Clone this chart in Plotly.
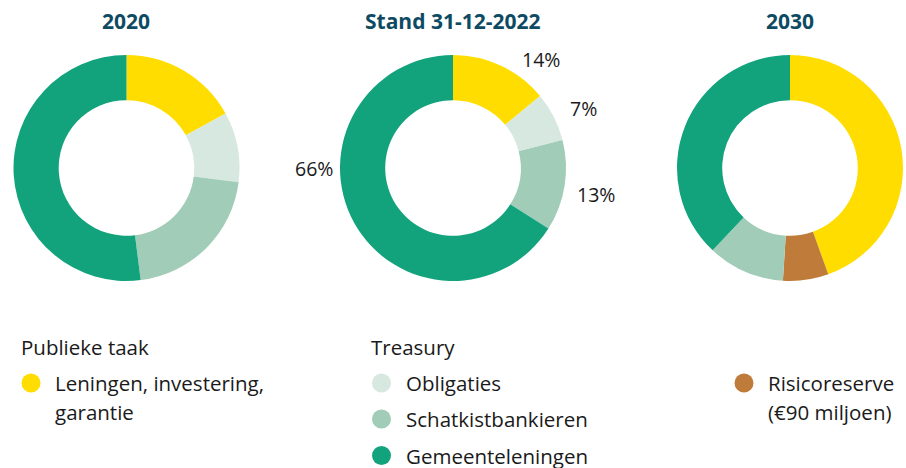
import plotly.graph_objects as go

W, H = 906, 468

# Categories (clockwise order from 12 o'clock)
categories = [
    "Leningen, investering, garantie",
    "Risicoreserve",
    "Obligaties",
    "Schatkistbankieren",
    "Gemeenteleningen",
]
colors = ["#FFDD00", "#BF7B3A", "#D6E8DF", "#A0CCB8", "#12A37C"]

# Share per category (%)
values_2020 = [17, 0, 10, 21, 52]
values_2022 = [14, 0, 7, 13, 66]
values_2030 = [44.5, 6.5, 0, 11, 38]

titles = ["2020", "Stand 31-12-2022", "2030"]

TITLE_COLOR = "#0E4B63"
TEXT_COLOR = "#1A1A1A"
FONT = "'Open Sans', sans-serif"
TEXT_SIZE = 20.5
TEXT_WEIGHT = 400


def px_x(x):
    return x / W


def px_y(y):
    return 1 - y / H


centers = [126.5, 453, 790]
R = 113
CY = 168

fig = go.Figure()
for vals, cx in zip([values_2020, values_2022, values_2030], centers):
    fig.add_trace(go.Pie(
        labels=categories,
        values=vals,
        hole=0.6,
        sort=False,
        direction="clockwise",
        rotation=0,
        marker=dict(colors=colors, line=dict(width=0)),
        textinfo="none",
        hoverinfo="label+percent",
        showlegend=False,
        domain=dict(x=[px_x(cx - R), px_x(cx + R)],
                    y=[px_y(CY + R), px_y(CY - R)]),
    ))

annotations = []


def add_text(text, x, y, size=TEXT_SIZE, weight=TEXT_WEIGHT, color=TEXT_COLOR,
             anchor="left"):
    annotations.append(dict(
        x=px_x(x), y=px_y(y), xref="paper", yref="paper",
        text=text, showarrow=False,
        font=dict(family=FONT, size=size, color=color, weight=weight),
        xanchor=anchor, yanchor="middle",
    ))


for t, cx in zip(titles, centers):
    add_text(f"<b>{t}</b>", cx, 21, size=21, weight=700, color=TITLE_COLOR,
             anchor="center")

# Percentage labels around the 2022 donut
label_pos_2022 = {0: (541, 60), 2: (583, 108), 3: (596, 194), 4: (314, 168)}
for i, (lx, ly) in label_pos_2022.items():
    add_text(f"{values_2022[i]:g}%", lx, ly, size=19.5, anchor="center")

# Legend group headings
add_text("Publieke taak", 19, 347)
add_text("Treasury", 369, 347)

# Legend entries: (category index, dot x, dot y, text x, text lines)
legend_items = [
    (0, 31, 383, 53, ["Leningen, investering,", "garantie"]),
    (2, 381.5, 383, 404, [categories[2]]),
    (3, 381.5, 419, 404, [categories[3]]),
    (4, 381.5, 455.5, 404, [categories[4]]),
    (1, 744, 383, 766, ["Risicoreserve", "(€90 miljoen)"]),
]
LINE_GAP = 28.5
shapes = []
DOT = 9.5
for idx, dx, dy, tx, lines in legend_items:
    shapes.append(dict(
        type="circle", xref="paper", yref="paper",
        x0=px_x(dx - DOT), x1=px_x(dx + DOT),
        y0=px_y(dy + DOT), y1=px_y(dy - DOT),
        fillcolor=colors[idx], line=dict(width=0),
    ))
    for k, line in enumerate(lines):
        add_text(line, tx, dy + k * LINE_GAP)

fig.update_layout(
    width=W, height=H,
    margin=dict(l=0, r=0, t=0, b=0),
    paper_bgcolor="white", plot_bgcolor="white",
    annotations=annotations, shapes=shapes,
)

fig.write_html("out.html", config={"displayModeBar": False})
